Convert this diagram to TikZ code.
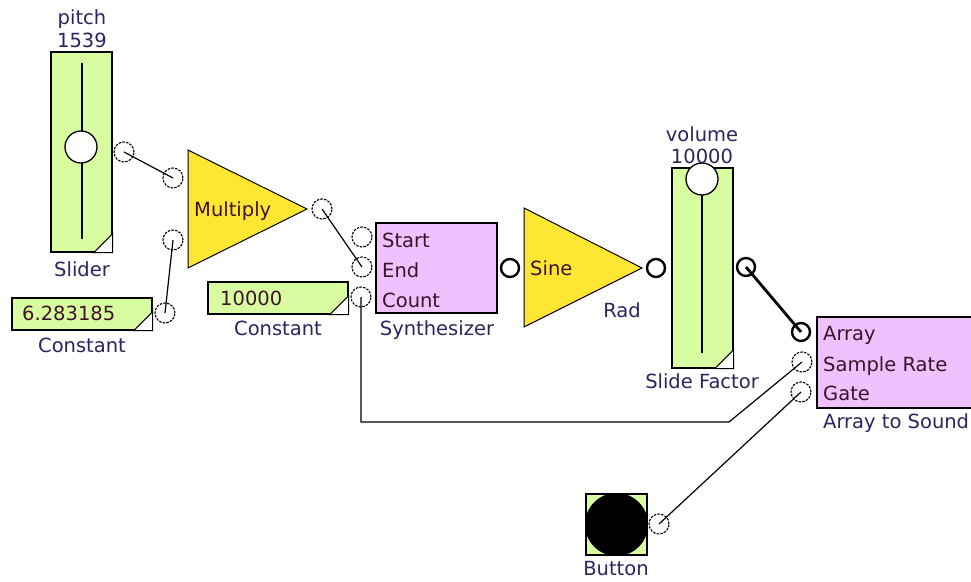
\documentclass[tikz,border=0pt]{standalone}
\usepackage{fontspec}
\setmainfont{DejaVu Sans}

\definecolor{blockgreen}{RGB}{216,252,160}
\definecolor{blockpink}{RGB}{240,192,255}
\definecolor{blockyellow}{RGB}{255,230,50}
\definecolor{labelblue}{RGB}{45,35,95}
\definecolor{innertext}{RGB}{60,20,40}

\begin{document}
\begin{tikzpicture}[
    x=1pt, y=-1pt,
    every node/.style={font=\fontsize{19.5}{22}\selectfont},
    greenbox/.style={rectangle, draw, fill=blockgreen, line width=1.4pt, inner sep=0pt},
    pinkbox/.style={rectangle, draw, fill=blockpink, line width=1.4pt, inner sep=0pt},
    port/.style={circle, draw, dash pattern=on 2.5pt off 1.2pt, line width=1.1pt, minimum size=20pt, inner sep=0pt},
    solidport/.style={circle, draw, line width=2.4pt, minimum size=18pt, inner sep=0pt},
    knob/.style={circle, draw, fill=white, line width=1.3pt, minimum size=32pt, inner sep=0pt},
    lbl/.style={text=labelblue, inner sep=0pt, anchor=base},
    txt/.style={text=innertext, inner sep=0pt, anchor=base west},
    wire/.style={line width=1.2pt},
    thickwire/.style={line width=2.8pt}
]

    \clip (0,0) rectangle (971,581);

    % pitch slider
    \node[greenbox, minimum width=61pt, minimum height=200pt] (pitch) at (81.5,152) {};
    \filldraw[fill=white, line width=1pt] ([xshift=-19pt]pitch.south east) -- ([yshift=19pt]pitch.south east) -- (pitch.south east) -- cycle;
    \draw[line width=1.3pt] (82,63) -- (82,239);
    \node[knob] (pitchknob) at (81,147) {};
    \node[lbl] (pitchname) at (82,24) {pitch};
    \node[lbl] (pitchval) at (82,47) {1539};
    \node[lbl] (pitchtype) at (82,276) {Slider};

    % constants
    \node[greenbox, minimum width=140pt, minimum height=32pt] (twopi) at (82,314) {};
    \filldraw[fill=white, line width=1pt] ([xshift=-19pt]twopi.south east) -- ([yshift=19pt]twopi.south east) -- (twopi.south east) -- cycle;
    \node[txt] (twopival) at (22,320) {6.283185};
    \node[lbl] (twopitype) at (82,352) {Constant};

    \node[greenbox, minimum width=140pt, minimum height=32pt] (count) at (278,298) {};
    \filldraw[fill=white, line width=1pt] ([xshift=-19pt]count.south east) -- ([yshift=19pt]count.south east) -- (count.south east) -- cycle;
    \node[txt] (countval) at (220,305) {10000};
    \node[lbl] (counttype) at (278,335) {Constant};

    % multiply
    \filldraw[fill=blockyellow, line width=1pt] (188,150) -- (307,209) -- (188,268) -- cycle;
    \node[txt] (multname) at (194,216) {Multiply};

    % synthesizer
    \node[pinkbox, minimum width=121pt, minimum height=90pt] (synth) at (436.5,268) {};
    \node[txt] (synstartlbl) at (382,247) {Start};
    \node[txt] (synendlbl) at (382,277) {End};
    \node[txt] (syncountlbl) at (382,307) {Count};
    \node[lbl] (synthtype) at (437,335) {Synthesizer};

    % sine
    \filldraw[fill=blockyellow, line width=1pt] (524,208) -- (642,268) -- (524,327) -- cycle;
    \node[txt] (sinename) at (530,275) {Sine};
    \node[lbl] (sineunit) at (622,317) {Rad};

    % volume slide factor
    \node[greenbox, minimum width=61pt, minimum height=200pt] (volume) at (702.5,268) {};
    \filldraw[fill=white, line width=1pt] ([xshift=-19pt]volume.south east) -- ([yshift=19pt]volume.south east) -- (volume.south east) -- cycle;
    \draw[line width=1.3pt] (702,195) -- (702,353);
    \node[knob] (volknob) at (702,179) {};
    \node[lbl] (volname) at (702,141) {volume};
    \node[lbl] (volval) at (702,163) {10000};
    \node[lbl] (voltype) at (702,388) {Slide Factor};

    % array to sound
    \node[pinkbox, minimum width=163pt, minimum height=91pt] (sound) at (898.5,362.5) {};
    \node[txt] (arraylbl) at (823,340) {Array};
    \node[txt] (ratelbl) at (823,371) {Sample Rate};
    \node[txt] (gatelbl) at (823,400) {Gate};
    \node[lbl, anchor=base west] (soundtype) at (823,428) {Array to Sound};

    % button
    \node[greenbox, minimum width=61pt, minimum height=61pt] (button) at (616.5,524.5) {};
    \begin{scope}
        \clip (586.7,494.7) rectangle (646.3,554.3);
        \fill[black] (616.5,524.5) circle (31.5);
    \end{scope}
    \node[lbl] (buttontype) at (616,575) {Button};

    % ports
    \node[port] (pitchout) at (124,152) {};
    \node[port] (mulin1) at (173,178) {};
    \node[port] (mulin2) at (173,240) {};
    \node[port] (twopiout) at (165,313) {};
    \node[port] (mulout) at (322,209) {};
    \node[port] (synstart) at (362,237) {};
    \node[port] (synend) at (362,267) {};
    \node[port] (syncount) at (361,297) {};
    \node[solidport] (synout) at (510,268) {};
    \node[solidport] (sineout) at (656,268) {};
    \node[solidport] (volout) at (746,267) {};
    \node[solidport] (arrin) at (801,332) {};
    \node[port] (ratein) at (802,362) {};
    \node[port] (gatein) at (801,392) {};
    \node[port] (buttonout) at (659,524) {};

    % wires
    \coordinate (bend) at (729,422);
    \draw[wire] (pitchout.center) -- (mulin1.center);
    \draw[wire] (twopiout.center) -- (mulin2.center);
    \draw[wire] (mulout.center) -- (synend.center);
    \draw[wire] (syncount.center) |- (bend) -- (ratein.center);
    \draw[thickwire] (volout.center) -- (arrin.center);
    \draw[wire] (buttonout.center) -- (gatein.center);

\end{tikzpicture}
\end{document}
